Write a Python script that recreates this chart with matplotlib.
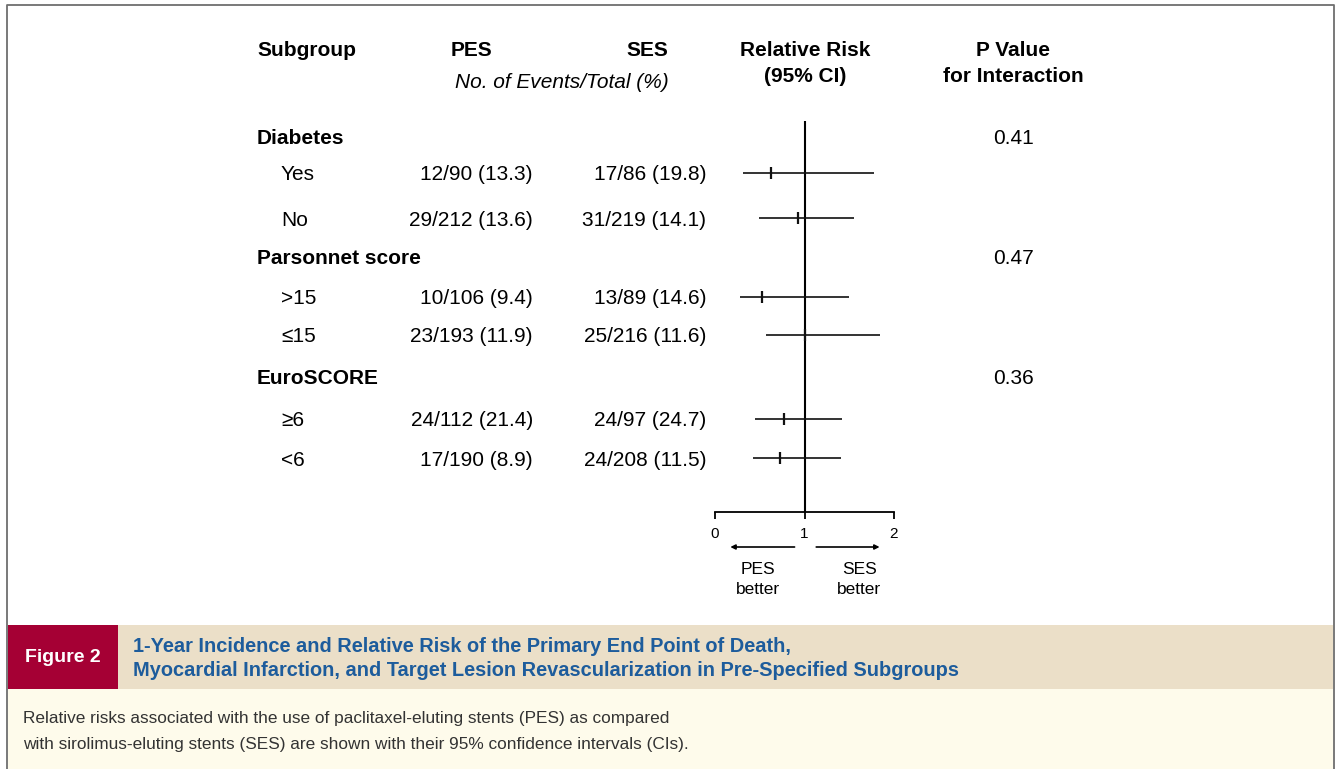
import matplotlib
matplotlib.use('Agg')
from matplotlib import pyplot as plt
from matplotlib.patches import Rectangle

# data
subgroups = ['Diabetes', 'Parsonnet score', 'EuroSCORE']
levels = [['Yes', 'No'], ['>15', '\u226415'], ['\u22656', '<6']]
pes_txt = ['12/90 (13.3)', '29/212 (13.6)', '10/106 (9.4)', '23/193 (11.9)',
           '24/112 (21.4)', '17/190 (8.9)']
ses_txt = ['17/86 (19.8)', '31/219 (14.1)', '13/89 (14.6)', '25/216 (11.6)',
           '24/97 (24.7)', '24/208 (11.5)']
rr = [0.63, 0.93, 0.53, 1.01, 0.77, 0.73]
rr_lo = [0.31, 0.49, 0.28, 0.57, 0.45, 0.42]
rr_hi = [1.78, 1.55, 1.50, 1.84, 1.42, 1.41]
p_int = ['0.41', '0.47', '0.36']

# layout (pixel rows)
W, H = 1339, 769
head_y = [139, 259, 379]
row_y = [173, 218, 297, 335, 419, 458]
FONT = ['Liberation Sans', 'DejaVu Sans']

plt.rcParams['font.family'] = FONT
fig = plt.figure(figsize=(W / 100, H / 100), dpi=100)

bg = fig.add_axes([0, 0, 1, 1])
bg.set_xlim(0, W)
bg.set_ylim(H, 0)
bg.axis('off')

# frame and caption bands
bg.plot([7, 7, 1334, 1334], [H, 5, 5, H], color='#6e6e6e', lw=1.3)
bg.add_patch(Rectangle((8, 625), 1325, 64, color='#ebdfc8', lw=0))
bg.add_patch(Rectangle((8, 625), 110, 64, color='#a50034', lw=0))
bg.add_patch(Rectangle((8, 689), 1325, 80, color='#fefbeb', lw=0))
bg.text(63, 658, 'Figure 2', color='white', fontsize=14, fontweight='bold',
        ha='center', va='center')
bg.text(133, 646, '1-Year Incidence and Relative Risk of the Primary End Point of Death,',
        color='#1d5c9c', fontsize=14.4, fontweight='bold', va='center')
bg.text(133, 670, 'Myocardial Infarction, and Target Lesion Revascularization in Pre-Specified Subgroups',
        color='#1d5c9c', fontsize=14.4, fontweight='bold', va='center')
bg.text(23, 719, 'Relative risks associated with the use of paclitaxel-eluting stents (PES) as compared',
        color='#333333', fontsize=12.4, va='center')
bg.text(23, 745, 'with sirolimus-eluting stents (SES) are shown with their 95% confidence intervals (CIs).',
        color='#333333', fontsize=12.4, va='center')

# column headers
fs = 15
dy = 2
bg.text(257, 51, 'Subgroup', fontsize=fs, fontweight='bold', va='center')
bg.text(472, 51, 'PES', fontsize=fs, fontweight='bold', va='center', ha='center')
bg.text(647, 51, 'SES', fontsize=fs, fontweight='bold', va='center', ha='center')
bg.text(562, 83, 'No. of Events/Total (%)', fontsize=fs, style='italic', va='center', ha='center')
bg.text(805, 51, 'Relative Risk', fontsize=fs, fontweight='bold', va='center', ha='center')
bg.text(805, 77, '(95% CI)', fontsize=fs, fontweight='bold', va='center', ha='center')
bg.text(1013, 51, 'P Value', fontsize=fs, fontweight='bold', va='center', ha='center')
bg.text(1013, 77, 'for Interaction', fontsize=fs, fontweight='bold', va='center', ha='center')

k = 0
for g in range(len(subgroups)):
    bg.text(257, head_y[g], subgroups[g], fontsize=fs, fontweight='bold', va='center')
    bg.text(1013, head_y[g], p_int[g], fontsize=fs, va='center', ha='center')
    for lev in levels[g]:
        bg.text(281, row_y[k] + dy, lev, fontsize=fs, va='center')
        bg.text(533, row_y[k] + dy, pes_txt[k], fontsize=fs, va='center', ha='right')
        bg.text(706, row_y[k] + dy, ses_txt[k], fontsize=fs, va='center', ha='right')
        k += 1

# forest panel: x data 0..2 over pixels 715..894, y in pixel rows
ax = fig.add_axes([715 / W, 1 - 512 / H, (894 - 715) / W, (512 - 121) / H])
ax.patch.set_alpha(0)
ax.set_xlim(0, 2)
ax.set_ylim(512, 121)
for s in ['top', 'left', 'right']:
    ax.spines[s].set_visible(False)
ax.spines['bottom'].set_linewidth(1.3)
ax.set_yticks([])
ax.set_xticks([0, 1, 2])
ax.set_xticklabels(['0', '1', '2'], fontsize=11)
ax.tick_params(axis='x', direction='out', length=5, width=1.3, pad=6)
ax.axvline(1, color='black', lw=1.5)
ax.hlines(row_y, rr_lo, rr_hi, color='#111111', lw=1.2)
ax.plot(rr, row_y, ls='none', marker='|', ms=8, mew=1.6, color='#111111', zorder=5)

ax.annotate('', xy=(0.14, 547), xytext=(0.92, 547), annotation_clip=False,
            arrowprops=dict(arrowstyle='-|>', color='black', lw=1.2, mutation_scale=7))
ax.annotate('', xy=(1.87, 547), xytext=(1.1, 547), annotation_clip=False,
            arrowprops=dict(arrowstyle='-|>', color='black', lw=1.2, mutation_scale=7))
ax.text(0.48, 569, 'PES', fontsize=12.5, ha='center', va='center')
ax.text(0.48, 590, 'better', fontsize=12.5, ha='center', va='center')
ax.text(1.61, 569, 'SES', fontsize=12.5, ha='center', va='center')
ax.text(1.61, 590, 'better', fontsize=12.5, ha='center', va='center')

fig.savefig('out.png', dpi=100)
